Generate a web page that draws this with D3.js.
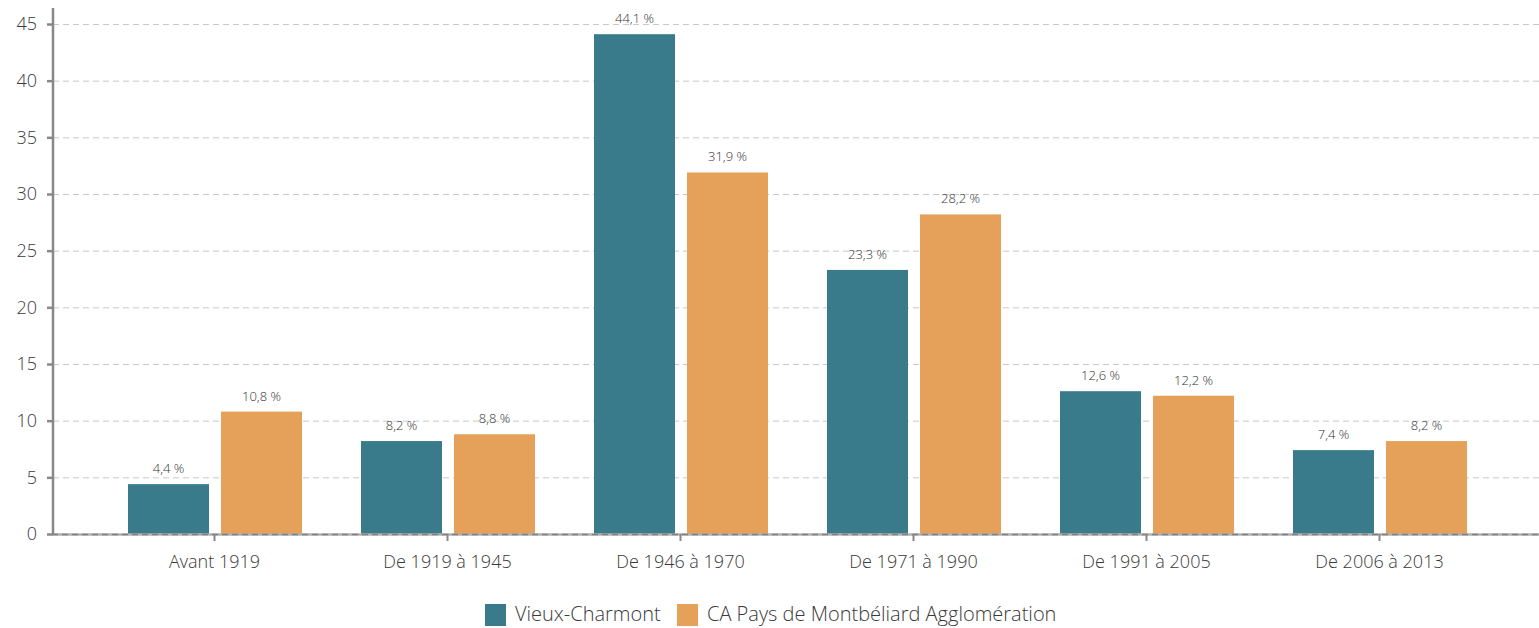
<!DOCTYPE html>
<html><head><meta charset="utf-8">
<script src="https://cdn.jsdelivr.net/npm/d3@7"></script>
<style>body{margin:0;background:#fff;}svg{display:block;font-family:"Open Sans","Noto Sans",sans-serif;font-weight:300;}</style>
</head><body><svg id="c" width="1539" height="628"></svg>
<script>
const categories = ["Avant 1919","De 1919 à 1945","De 1946 à 1970","De 1971 à 1990","De 1991 à 2005","De 2006 à 2013"];
const seriesNames = ["Vieux-Charmont","CA Pays de Montbéliard Agglomération"];
const vieuxCharmont = [4.4, 8.2, 44.1, 23.3, 12.6, 7.4];
const caPMA = [10.8, 8.8, 31.9, 28.2, 12.2, 8.2];
const yTicks = [0,5,10,15,20,25,30,35,40,45];
const colors = ["#397a8b","#e5a05a"];

const svg = d3.select("#c");
const y = d3.scaleLinear().domain([0,45]).range([534,24]);
const x0 = d3.scaleBand().domain(categories).range([97.5,1495.5]).padding(0);
const x1 = d3.scaleBand().domain(seriesNames).range([30.5,204.5]).paddingInner(12/93).paddingOuter(0);
const fmt = v => d3.format(".1f")(v).replace(".",",") + " %";
const FF = '"Open Sans","Noto Sans",sans-serif';

// grid
svg.append("g").selectAll("line").data(yTicks.filter(d=>d>0)).join("line")
  .attr("x1",53).attr("x2",1539).attr("y1",d=>y(d)+0.5).attr("y2",d=>y(d)+0.5)
  .attr("stroke","#c8c8c8").attr("stroke-dasharray","6,4").attr("stroke-width",1);

// bars
const data = categories.map((c,i)=>({cat:c, vals:[vieuxCharmont[i], caPMA[i]]}));
const g = svg.append("g");
const grp = g.selectAll("g").data(data).join("g").attr("transform",d=>`translate(${x0(d.cat)},0)`);
grp.selectAll("rect").data(d=>d.vals.map((v,j)=>({s:seriesNames[j],v,j}))).join("rect")
  .attr("x",d=>x1(d.s)).attr("width",x1.bandwidth())
  .attr("y",d=>y(d.v)).attr("height",d=>y(0)-y(d.v)).attr("fill",d=>colors[d.j]);
grp.selectAll("text").data(d=>d.vals.map((v,j)=>({s:seriesNames[j],v,j}))).join("text")
  .attr("x",d=>x1(d.s)+x1.bandwidth()/2).attr("y",d=>y(d.v)-11)
  .attr("text-anchor","middle").attr("font-size",13).attr("fill","#333").text(d=>fmt(d.v));

// x axis
svg.append("line").attr("x1",52).attr("x2",1539).attr("y1",534.5).attr("y2",534.5).attr("stroke","#b0b0b0").attr("stroke-width",2.5);
svg.append("line").attr("x1",52).attr("x2",1539).attr("y1",534.5).attr("y2",534.5).attr("stroke","#808080").attr("stroke-width",1.5).attr("stroke-dasharray","6,4");
const xa = svg.append("g").attr("transform","translate(0,534)")
  .call(d3.axisBottom(d3.scalePoint().domain(categories).range([x0(categories[0])+x0.bandwidth()/2, x0(categories[5])+x0.bandwidth()/2])).tickSize(7).tickPadding(14));
xa.select(".domain").remove();
xa.selectAll(".tick line").attr("stroke","#888").attr("stroke-width",2);
xa.selectAll(".tick text").attr("font-size",18).attr("fill","#3a3a3a").attr("font-family",FF).attr("font-weight",300);

// y axis
const ya = svg.append("g").attr("transform","translate(53,0)")
  .call(d3.axisLeft(y).tickValues(yTicks).tickSize(6).tickPadding(10).tickFormat(d3.format("d")));
ya.select(".domain").remove();
svg.append("line").attr("x1",53).attr("x2",53).attr("y1",8).attr("y2",535).attr("stroke","#888").attr("stroke-width",2.5);
ya.selectAll(".tick line").attr("stroke","#888").attr("stroke-width",2.5);
ya.selectAll(".tick text").attr("font-size",18).attr("fill","#3a3a3a").attr("font-family",FF).attr("font-weight",300);

// legend
const lg = svg.append("g");
const legX = [485, 677];
seriesNames.forEach((s,i)=>{
  lg.append("rect").attr("x",legX[i]).attr("y",604).attr("width",21).attr("height",22).attr("fill",colors[i]);
  lg.append("text").attr("x",legX[i]+30).attr("y",621).attr("font-size",20).attr("fill","#3a3a3a").text(s);
});
</script></body></html>
